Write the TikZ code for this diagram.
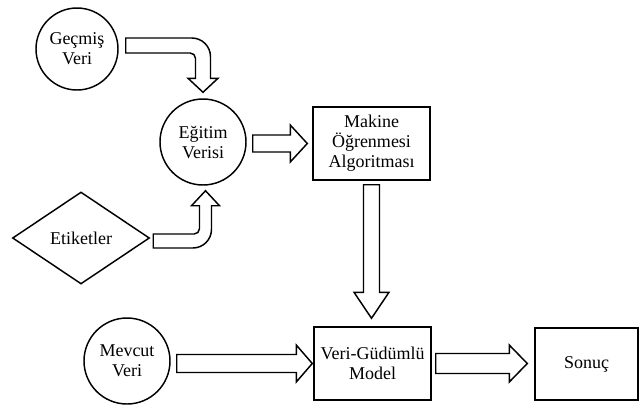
\documentclass[tikz,border=0pt]{standalone}
\usepackage{fontspec}
\setmainfont{Liberation Serif}
\usetikzlibrary{shapes.geometric,calc}
\newcommand\blockarrowH[5]{% start, tip, shaft half width, head half width, head length
  \draw[blk] ($(#1)+(0,-#3)$) -- ($(#2)+(-#5,-#3)$) -- ($(#2)+(-#5,-#4)$) -- (#2)
    -- ($(#2)+(-#5,#4)$) -- ($(#2)+(-#5,#3)$) -- ($(#1)+(0,#3)$) -- cycle;}
\begin{document}
\begin{tikzpicture}[x=0.75pt,y=-0.75pt,
  every node/.style={font=\fontsize{13.5pt}{15pt}\selectfont, align=center},
  circ/.style={draw,circle,line width=1.1pt,inner sep=0pt},
  box/.style={draw,rectangle,line width=1.1pt,inner sep=0pt},
  dia/.style={draw,diamond,line width=1.1pt,inner sep=0pt},
  blk/.style={draw,line width=1.1pt,fill=white,line join=miter}]
\useasboundingbox (0,0) rectangle (639,405);
% nodes
\node[circ,minimum size=61.5pt] (g) at (77,49) {Geçmiş\\Veri};
\node[circ,minimum size=64.5pt] (e) at (203,142) {Eğitim\\Verisi};
\node[dia,minimum width=102.75pt,minimum height=69pt] (t) at (81,238) {Etiketler};
\node[circ,minimum size=64.5pt] (m) at (127,361) {Mevcut\\Veri};
\node[box,minimum width=87.75pt,minimum height=54.75pt] (a) at (371.5,143.5) {Makine\\Öğrenmesi\\Algoritması};
\node[box,minimum width=87.75pt,minimum height=54.75pt] (v) at (372.5,363.5) {Veri-Güdümlü\\Model};
\node[box,minimum width=77.25pt,minimum height=54pt] (s) at (586.5,364) {Sonuç};
% straight block arrows
\coordinate (a1s) at ($(e.east|-a.west)+(6,0)$);
\coordinate (a1t) at ($(a.west)+(-5,0)$);
\blockarrowH{a1s}{a1t}{8.5}{18.5}{17}
\coordinate (a2s) at ($(m.east|-v.west)+(6,0)$);
\coordinate (a2t) at ($(v.west)+(-1,0)$);
\blockarrowH{a2s}{a2t}{9}{18.5}{16}
\coordinate (a3s) at ($(v.east)+(4,0)$);
\coordinate (a3t) at ($(v.east-|s.west)+(-7,0)$);
\blockarrowH{a3s}{a3t}{10}{18.5}{18}
% down arrow
\coordinate (d1s) at ($(a.south)+(0,4)$);
\coordinate (d1t) at ($(a.south|-v.north)+(0,-8)$);
\draw[blk] ($(d1s)+(-8,0)$) -- ($(d1t)+(-8,-26)$) -- ($(d1t)+(-17.5,-26)$) -- (d1t)
  -- ($(d1t)+(17.5,-26)$) -- ($(d1t)+(8,-26)$) -- ($(d1s)+(8,0)$) -- cycle;
% bent arrow from Geçmiş Veri
\coordinate (b1) at ($(g.east)+(7,-3.5)$);
\coordinate (t1) at ($(e.north)+(0,-6)$);
\draw[blk] ($(b1)+(0,-7.5)$) [rounded corners=14pt] -- ($(t1|-b1)+(7.5,-7.5)$) [sharp corners]
  -- ($(t1)+(7.5,-14)$) -- ($(t1)+(15,-14)$) -- (t1) -- ($(t1)+(-15,-14)$) -- ($(t1)+(-7.5,-14)$)
  [rounded corners=4pt] -- ($(t1|-b1)+(-7.5,7.5)$) [sharp corners] -- ($(b1)+(0,7.5)$) -- cycle;
% bent arrow from Etiketler
\coordinate (b2) at ($(t.east)+(3,3)$);
\coordinate (t2) at ($(e.south)+(2.5,5)$);
\draw[blk] ($(b2)+(0,-7)$) [rounded corners=4pt] -- ($(t2|-b2)+(-6,-7)$) [sharp corners]
  -- ($(t2)+(-6,15)$) -- ($(t2)+(-14,15)$) -- (t2) -- ($(t2)+(14,15)$) -- ($(t2)+(6,15)$)
  [rounded corners=14pt] -- ($(t2|-b2)+(6,7)$) [sharp corners] -- ($(b2)+(0,7)$) -- cycle;
\end{tikzpicture}
\end{document}
